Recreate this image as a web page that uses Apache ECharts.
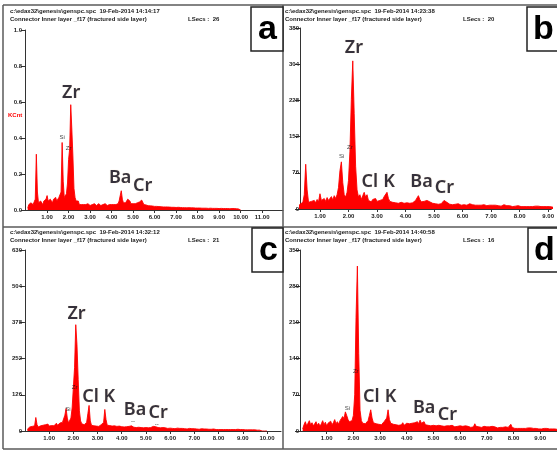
<!DOCTYPE html>
<html>
<head>
<meta charset="utf-8">
<title>EDS spectra</title>
<script src="https://cdn.jsdelivr.net/npm/echarts@6/dist/echarts.min.js"></script>
<style>
  html, body { margin: 0; padding: 0; background: #fff; }
  #chart { width: 557px; height: 451px; }
</style>
</head>
<body>
<div id="chart"></div>
<script>
// spectrum channels: 0.10 keV upwards, 0.05 keV per channel
const channelStart = 0.1;
const channelStep = 0.05;

// panel a (KCnt)
const countsA = [
  0.01, 0.03, 0.02, 0.04, 0.05, 0.03, 0.04, 0.06, 0.31, 0.10,
  0.04, 0.03, 0.05, 0.04, 0.03, 0.05, 0.04, 0.06, 0.08, 0.05,
  0.04, 0.06, 0.05, 0.04, 0.06, 0.05, 0.07, 0.05, 0.06, 0.07,
  0.07, 0.10, 0.375, 0.16, 0.07, 0.06, 0.09, 0.15, 0.28, 0.34,
  0.585, 0.45, 0.30, 0.12, 0.07, 0.05, 0.04, 0.05, 0.03, 0.04,
  0.03, 0.04, 0.03, 0.035, 0.03, 0.025, 0.035, 0.03, 0.025, 0.03,
  0.03, 0.025, 0.035, 0.03, 0.025, 0.03, 0.035, 0.03, 0.025, 0.03,
  0.03, 0.025, 0.035, 0.03, 0.025, 0.03, 0.03, 0.025, 0.03, 0.035,
  0.03, 0.035, 0.03, 0.04, 0.035, 0.05, 0.08, 0.107, 0.06, 0.04,
  0.035, 0.04, 0.045, 0.06, 0.07, 0.05, 0.035, 0.03, 0.035, 0.03,
  0.035, 0.03, 0.04, 0.035, 0.045, 0.05, 0.055, 0.045, 0.03, 0.025,
  0.028, 0.03, 0.024, 0.027, 0.023, 0.026, 0.022, 0.024, 0.02, 0.022,
  0.02, 0.022, 0.019, 0.021, 0.018, 0.02, 0.017, 0.019, 0.017, 0.018,
  0.017, 0.018, 0.016, 0.017, 0.015, 0.017, 0.015, 0.016, 0.014, 0.015,
  0.015, 0.016, 0.014, 0.015, 0.013, 0.015, 0.013, 0.014, 0.012, 0.014,
  0.013, 0.014, 0.012, 0.013, 0.012, 0.013, 0.011, 0.012, 0.011, 0.012,
  0.011, 0.012, 0.01, 0.011, 0.01, 0.011, 0.01, 0.011, 0.009, 0.01,
  0.01, 0.011, 0.009, 0.01, 0.009, 0.01, 0.009, 0.01, 0.008, 0.009,
  0.009, 0.01, 0.008, 0.009, 0.008, 0.009, 0.008, 0.008, 0.007, 0.008,
  0.008, 0.007, 0.008, 0.007, 0.007, 0.006, 0.006, 0.004, 0
];

// panel b (counts)
const countsB = [
  0, 2, 4, 8, 10, 12, 14, 30, 94, 40,
  14, 10, 16, 12, 18, 13, 20, 15, 32, 18,
  14, 22, 16, 24, 18, 20, 26, 19, 28, 22,
  30, 45, 80, 99, 55, 30, 25, 35, 60, 120,
  230, 311, 200, 90, 40, 25, 30, 20, 28, 35,
  25, 30, 18, 22, 15, 20, 17, 22, 16, 20,
  18, 22, 20, 26, 30, 35, 22, 16, 18, 14,
  16, 13, 17, 12, 15, 14, 16, 12, 15, 13,
  14, 12, 15, 13, 16, 18, 22, 28, 20, 15,
  13, 16, 14, 18, 20, 15, 13, 12, 14, 11,
  12, 10, 13, 11, 15, 18, 22, 14, 11, 10,
  11, 9, 12, 10, 9, 11, 10, 8, 10, 9,
  10, 8, 9, 11, 8, 9, 10, 8, 9, 8,
  9, 8, 7, 9, 8, 7, 9, 8, 7, 8,
  7, 8, 6, 7, 8, 6, 7, 9, 6, 7,
  6, 7, 6, 5, 7, 6, 5, 7, 6, 5,
  6, 5, 6, 5, 7, 5, 6, 5, 4, 6,
  5, 6, 4, 5, 6, 5, 4, 5, 6, 5,
  5, 4, 5, 6, 4, 5, 4, 5, 4, 5,
  4, 5, 4, 4, 5, 4, 3, 4, 4
];

// panel c (counts)
const countsC = [
  6, 10, 14, 9, 16, 12, 18, 47, 22, 14,
  12, 18, 14, 20, 16, 22, 18, 24, 17, 21,
  19, 25, 18, 22, 27, 20, 24, 28, 22, 30,
  35, 55, 78, 45, 28, 30, 45, 80, 150, 220,
  370, 300, 180, 70, 35, 25, 30, 22, 28, 30,
  60, 89, 35, 20, 24, 18, 22, 17, 20, 16,
  18, 22, 20, 30, 75, 40, 20, 16, 19, 15,
  17, 14, 18, 15, 16, 13, 17, 14, 15, 13,
  14, 12, 15, 13, 16, 14, 18, 15, 13, 14,
  12, 15, 13, 14, 12, 13, 11, 14, 12, 13,
  11, 13, 12, 14, 16, 13, 15, 11, 12, 10,
  11, 10, 12, 9, 11, 10, 9, 11, 10, 9,
  9, 10, 8, 9, 10, 8, 9, 8, 9, 8,
  8, 9, 7, 8, 9, 7, 8, 7, 8, 7,
  7, 8, 6, 7, 8, 6, 7, 6, 7, 6,
  6, 7, 6, 5, 7, 6, 5, 6, 5, 6,
  5, 6, 5, 6, 5, 4, 5, 6, 5, 4,
  5, 4, 5, 4, 6, 4, 5, 4, 5, 4,
  4, 5, 4, 3, 4, 5, 4, 3, 4, 3,
  3, 4, 3, 2, 0, 0, 0, 0, 0
];

// panel d (counts)
const countsD = [
  4, 12, 18, 10, 15, 20, 12, 16, 10, 14,
  18, 11, 15, 9, 14, 20, 12, 17, 10, 15,
  13, 19, 12, 16, 22, 14, 18, 13, 20, 24,
  28, 24, 37, 30, 22, 18, 15, 20, 30, 70,
  220, 319, 150, 40, 20, 15, 18, 14, 17, 20,
  30, 41, 25, 16, 18, 14, 17, 13, 15, 12,
  14, 18, 16, 25, 41, 22, 15, 18, 13, 16,
  12, 15, 11, 14, 12, 16, 11, 13, 15, 12,
  14, 11, 15, 12, 16, 13, 18, 14, 21, 15,
  13, 18, 12, 15, 11, 14, 10, 12, 11, 13,
  10, 12, 11, 13, 10, 12, 9, 11, 10, 9,
  10, 8, 11, 9, 8, 10, 9, 8, 10, 8,
  9, 8, 10, 7, 9, 8, 7, 9, 8, 14,
  9, 7, 8, 10, 7, 8, 9, 7, 8, 7,
  8, 7, 9, 6, 8, 7, 6, 8, 7, 6,
  7, 6, 8, 6, 7, 6, 13, 7, 6, 5,
  6, 5, 7, 5, 6, 5, 6, 5, 4, 6,
  5, 6, 4, 5, 4, 5, 6, 4, 5, 4,
  4, 5, 4, 5, 3, 4, 5, 4, 3, 4,
  4, 3, 4, 3, 4, 3, 3, 4, 3
];

// y axis ranges and tick steps
const yMaxes = [1.0, 380, 630, 350];
const yIntervals = [0.2, 76, 126, 70];

// x tick labels (keV)
const xTicksA = [1, 2, 3, 4, 5, 6, 7, 8, 9, 10, 11];
const xTicksB = [1, 2, 3, 4, 5, 6, 7, 8, 9];
const xTicksC = [1, 2, 3, 4, 5, 6, 7, 8, 9, 10];
const xTicksD = [1, 2, 3, 4, 5, 6, 7, 8, 9];

// element labels [text, keV, count]
const elementsA = [['Zr', 2.12, 0.65], ['Ba', 4.40, 0.178], ['Cr', 5.44, 0.133]];
const elementsB = [['Zr', 2.19, 338], ['Cl', 2.75, 57], ['K', 3.42, 57], ['Ba', 4.56, 57], ['Cr', 5.36, 44]];
const elementsC = [['Zr', 2.13, 407], ['Cl', 2.71, 118], ['K', 3.49, 118], ['Ba', 4.55, 73], ['Cr', 5.50, 63]];
const elementsD = [['Cl', 2.67, 66], ['K', 3.39, 66], ['Ba', 4.65, 44], ['Cr', 5.52, 31]];

// small peak marks from the analyser software
const peakTagsA = [['Si', 1.70, 0.405], ['Zr', 2.00, 0.34]];
const peakTagsB = [['Si', 1.76, 111], ['Zr', 2.05, 130]];
const peakTagsC = [['Si', 1.78, 77], ['Zr', 2.05, 153], ['--', 4.46, 35], ['--', 5.45, 24]];
const peakTagsD = [['Si', 1.78, 44], ['Zr', 2.09, 116]];

const panelLetters = ['a', 'b', 'c', 'd'];
const acquireTimes = ['14:14:17', '14:23:38', '14:32:12', '14:40:58'];
const liveSecs = [26, 20, 21, 16];

const font = 'Liberation Sans';

const layouts = [
  { left: 23, top: 30, width: 260, height: 180, xMin: -0.12, xMax: 11.97, ox: 0, oy: 0 },
  { left: 300, top: 28, width: 260, height: 181, xMin: 0.3, xMax: 9.11, ox: 277, oy: 0 },
  { left: 23, top: 250, width: 258, height: 181, xMin: -0.08, xMax: 10.58, ox: 0, oy: 221 },
  { left: 300, top: 250, width: 260, height: 181, xMin: 0, xMax: 9.63, ox: 277, oy: 221 }
];
const spectra = [countsA, countsB, countsC, countsD];
const xTicks = [xTicksA, xTicksB, xTicksC, xTicksD];
const elements = [elementsA, elementsB, elementsC, elementsD];
const peakTags = [peakTagsA, peakTagsB, peakTagsC, peakTagsD];

const chart = echarts.init(document.getElementById('chart'), null, { renderer: 'canvas' });

const grids = [], xAxes = [], yAxes = [], series = [], graphics = [];

layouts.forEach((L, i) => {
  grids.push({ left: L.left, top: L.top, width: L.width, height: L.height, containLabel: false });

  xAxes.push({
    type: 'value', gridIndex: i, min: L.xMin, max: L.xMax,
    axisLine: { show: true, onZero: false, lineStyle: { color: '#333', width: 1 } },
    axisTick: { show: true, customValues: xTicks[i], length: 3, lineStyle: { color: '#333' } },
    axisLabel: {
      customValues: xTicks[i], formatter: v => v.toFixed(2),
      fontSize: 6, fontWeight: 'bold', fontFamily: font, color: '#222', margin: 4
    },
    splitLine: { show: false }
  });

  const dec = i === 0 ? 1 : 0;
  yAxes.push({
    type: 'value', gridIndex: i, min: 0, max: yMaxes[i], interval: yIntervals[i],
    axisLine: { show: true, lineStyle: { color: '#333', width: 1 } },
    axisTick: { show: true, length: 5, lineStyle: { color: '#333' } },
    axisLabel: {
      formatter: v => v.toFixed(dec), fontSize: 6, fontWeight: 'bold',
      fontFamily: font, color: '#222', margin: 1
    },
    splitLine: { show: false }
  });

  series.push({
    type: 'line', xAxisIndex: i, yAxisIndex: i,
    data: spectra[i].map((c, k) => [+(channelStart + k * channelStep).toFixed(2), c]),
    symbol: 'none', showSymbol: false, clip: true, silent: true,
    lineStyle: { color: '#ff0000', width: 0.9 },
    areaStyle: { color: '#ff0000', opacity: 1 }
  });

  series.push({
    type: 'scatter', xAxisIndex: i, yAxisIndex: i, symbolSize: 1, silent: true, z: 5,
    itemStyle: { color: 'rgba(0,0,0,0)' },
    data: elements[i].map(([t, x, y]) => ({ name: t, value: [x, y] })),
    label: {
      show: true, position: 'inside', formatter: '{b}',
      fontFamily: 'Noto Sans', fontSize: 18, fontWeight: 600, color: '#05051a',
      textShadowColor: 'rgba(215,150,40,0.4)', textShadowBlur: 1
    }
  });

  series.push({
    type: 'scatter', xAxisIndex: i, yAxisIndex: i, symbolSize: 1, silent: true, z: 5,
    itemStyle: { color: 'rgba(0,0,0,0)' },
    data: peakTags[i].map(([t, x, y]) => ({ name: t, value: [x, y] })),
    label: {
      show: true, position: 'inside', formatter: '{b}',
      fontFamily: font, fontSize: 6, color: '#111'
    }
  });

  // header lines
  graphics.push({
    type: 'text', left: 10 + L.ox - (i % 2) * 2, top: 8 + L.oy,
    style: {
      text: 'c:\\edax32\\genesis\\genspc.spc  19-Feb-2014 ' + acquireTimes[i],
      font: 'bold 6px "' + font + '"', fill: '#222'
    }
  });
  graphics.push({
    type: 'text', left: 10 + L.ox - (i % 2) * 2, top: 16 + L.oy,
    style: {
      text: 'Connector Inner layer _f17 (fractured side layer)',
      font: 'bold 6px "' + font + '"', fill: '#222'
    }
  });
  graphics.push({
    type: 'text', left: 188 + L.ox - (i % 2) * 2, top: 16 + L.oy,
    style: { text: 'LSecs :  ' + liveSecs[i], font: 'bold 6px "' + font + '"', fill: '#222' }
  });
});

// outer frame and dividers
const frameColor = '#5a5a5a';
[[3, 5, 557, 5], [3, 5, 3, 449], [3, 449, 557, 449], [3, 227, 557, 227], [283, 5, 283, 449]]
  .forEach(([x1, y1, x2, y2]) => {
    graphics.push({
      type: 'line', shape: { x1, y1, x2, y2 },
      style: { stroke: frameColor, lineWidth: 1.5 }, z: 10
    });
  });

// panel letter boxes
const boxes = [[251, 7, 32, 44], [527, 7, 35, 44], [252, 228, 31, 44], [528, 228, 35, 44]];
boxes.forEach(([x, y, w, h], i) => {
  graphics.push({
    type: 'rect', shape: { x, y, width: w, height: h },
    style: { fill: '#fff', stroke: '#222', lineWidth: 1.5 }, z: 11
  });
  graphics.push({
    type: 'text', x: x + 16.5, y: y + 23, z: 12,
    style: {
      text: panelLetters[i], font: 'bold 34px "' + font + '"', fill: '#000',
      textAlign: 'center', textVerticalAlign: 'middle'
    }
  });
});

graphics.push({
  type: 'text', left: 8, top: 112,
  style: { text: 'KCnt', font: 'bold 6px "' + font + '"', fill: '#ff0000' }
});

chart.setOption({
  animation: false,
  backgroundColor: '#fff',
  grid: grids,
  xAxis: xAxes,
  yAxis: yAxes,
  series: series,
  graphic: graphics
});
</script>
</body>
</html>
